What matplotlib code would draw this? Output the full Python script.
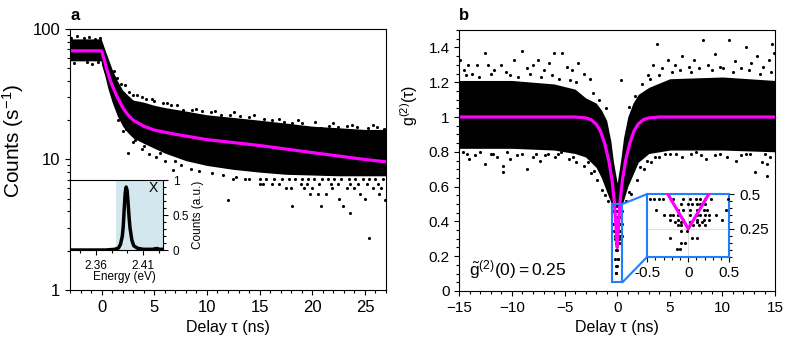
import matplotlib
matplotlib.use("Agg")
import matplotlib.pyplot as plt
from matplotlib.ticker import MultipleLocator, FuncFormatter, FixedLocator, NullFormatter
from matplotlib.patches import Rectangle, ConnectionPatch

plt.rcParams['font.family'] = ['Liberation Sans', 'DejaVu Sans']
plt.rcParams['mathtext.fontset'] = 'custom'
plt.rcParams['mathtext.rm'] = 'Liberation Sans'
plt.rcParams['mathtext.it'] = 'Liberation Sans:italic'

MAG = '#ff00ff'
BLUE = '#1f80ff'

# ---- panel a: lifetime ----
core_a_tau = [-3, -0.05, 0.0, 0.3, 0.6, 1.0, 1.5, 2.0, 2.5, 3.0, 4.0, 5.0, 6.0, 8.0, 10, 12.5, 15, 17.5, 20, 22.5, 25, 27]
core_a_hi = [84, 84, 82, 70, 60, 49, 40, 34, 31, 28.5, 27.5, 26, 25, 23.5, 22, 21, 20, 19, 18, 17.5, 17, 17]
core_a_lo = [57, 57, 53, 44, 35, 27.5, 21.5, 18, 16, 14.6, 13.3, 12.2, 11.2, 9.8, 9.0, 8.4, 8.0, 7.7, 7.6, 7.5, 7.5, 7.5]

fit_a_tau = [-3, 0.0, 0.25, 0.5, 0.75, 1.0, 1.5, 2.0, 2.5, 3.0, 4.0, 5.0, 7.0, 10, 15, 20, 25, 27]
fit_a_val = [68, 68, 58, 49, 42, 37, 30, 25, 22, 20, 18, 16.8, 15.6, 14.2, 12.8, 11.3, 10.0, 9.6]

halo_a_tau = [-2.9, -2.3, -1.7, -1.2, -0.6, -0.2, -2.6, -1.4, -0.9, -0.3,
              1.2, 1.8, 2.6, 3.4, 4.2, 5.0, 5.8, 6.6, 7.7, 8.6, 9.5, 10.4, 11.3, 12.2, 13.1,
              14.0, 15.4, 16.2, 17.3, 18.1, 19.0, 20.8, 21.6, 22.4, 23.3, 24.2, 25.3, 26.1, 26.8,
              2.0, 2.5, 3.0, 3.8, 4.5, 5.2, 6.0, 6.8, 7.5, 8.5, 9.2, 10.5, 11.5, 12.0, 12.8, 13.6,
              15.3, 16.8, 17.5, 18.1, 19.2, 19.8, 20.8, 21.3, 22.5, 22.9, 23.6, 25.0, 25.4, 26.3, 26.9,
              12.5, 14.0, 15.0, 15.6, 16.4, 17.1, 17.8, 18.4, 19.0, 19.6, 20.2, 20.9, 21.5, 22.1,
              22.7, 23.5, 24.1, 24.8, 25.4, 26.0, 26.7,
              15.0, 16.2, 18.9, 19.5, 20.6, 21.8, 22.4, 23.6, 24.3, 25.2, 26.2,
              18.0, 20.0, 21.9, 23.3, 24.0, 25.8, 26.5, 20.5, 24.5,
              1.5, 2.2, 3.0, 3.8, 4.8, 6.2, 7.2, 9.0, 10.8, 12.6, 14.5, 16.8, 18.6, 20.3, 22.0, 23.8, 25.8,
              1.6, 2.3, 3.2, 4.0, 5.5, 7.0]
halo_a_val = [86, 88, 85, 87, 84, 86, 55, 56, 54, 56,
              48, 38, 33, 31, 29, 28, 27, 26, 24, 24, 23.5, 23, 22, 22, 21.5,
              21, 20.4, 20, 19.4, 19, 19, 17.5, 18, 17.8, 18, 17.6, 17.5, 17.8, 17,
              16.5, 11.2, 13.5, 12.0, 11.0, 10.5, 9.8, 8.3, 9.0, 8.5, 8.2, 7.9, 7.6, 4.9, 7.4, 7.1,
              6.5, 6.5, 6.0, 4.4, 6.0, 5.4, 4.4, 5.4, 5.0, 4.4, 3.9, 5.0, 2.5, 5.4, 4.9,
              7.1, 7.1, 7.1, 7.1, 7.1, 7.1, 7.1, 7.1, 7.1, 7.1, 7.1, 7.1, 7.1, 7.1,
              7.1, 7.1, 7.1, 7.1, 7.1, 7.1, 7.1,
              6.5, 6.5, 6.5, 6.5, 6.5, 6.5, 6.5, 6.5, 6.5, 6.5, 6.5,
              6.0, 6.0, 6.0, 6.0, 6.0, 6.0, 6.0, 5.4, 5.4,
              42, 37, 31, 30, 29, 27, 26, 24.5, 23.5, 23, 22, 20.5, 20, 19.5, 19, 18.5, 18.5,
              20, 17, 14, 12.8, 11.2, 9.7]

# inset a: PL spectrum
spec_e = [2.333, 2.37, 2.380, 2.384, 2.386, 2.388, 2.389, 2.390, 2.391, 2.392, 2.393, 2.394,
          2.395, 2.396, 2.398, 2.400, 2.404, 2.41, 2.42, 2.423, 2.425, 2.427, 2.4307]
spec_i = [0.0, 0.0, 0.01, 0.03, 0.08, 0.2, 0.35, 0.6, 0.82, 0.9, 0.85, 0.68,
          0.48, 0.32, 0.14, 0.06, 0.025, 0.01, 0.01, 0.02, 0.02, 0.01, 0.01]
spec_ticks = [2.36, 2.41]
spec_minor = [2.3433, 2.3767, 2.3933, 2.4267]
filter_lo = 2.381

# ---- panel b: g2 ----
core_b_tau = [-15, -10, -6, -4, -3, -2, -1.5, -1, -0.6, -0.35, 0, 0.35, 0.6, 1, 1.5, 2, 3, 5, 10, 15]
core_b_lo = [0.82, 0.82, 0.81, 0.79, 0.77, 0.71, 0.65, 0.57, 0.51, 0.48, 0.48, 0.48, 0.52, 0.6, 0.67, 0.74, 0.79, 0.81, 0.81, 0.8]
core_b_hi = [1.21, 1.21, 1.19, 1.16, 1.11, 1.08, 1.04, 0.98, 0.86, 0.74, 0.62, 0.76, 0.88, 1.0, 1.08, 1.13, 1.17, 1.22, 1.23, 1.21]

fit_b_tau = [-15, -4, -3, -2.5, -2, -1.6, -1.2, -0.8, -0.5, -0.25, -0.1, 0,
             0.1, 0.25, 0.5, 0.8, 1.2, 1.6, 2, 2.5, 3, 4, 15]
fit_b_val = [1, 1, 0.995, 0.985, 0.96, 0.92, 0.85, 0.75, 0.64, 0.5, 0.35, 0.25,
             0.35, 0.5, 0.64, 0.75, 0.85, 0.92, 0.96, 0.985, 0.995, 1, 1]

halo_b_tau = [-14.9, -14.6, -14.2, -13.8, -13.3, -12.6, -12.3, -11.7, -11.0, -10.6, -9.85, -9.07,
              -8.6, -8.0, -7.5, -7.0, -6.5, -5.98, -5.2, -4.8, -4.3, -3.7, -3.2, -2.6, 0.37,
              2.9, 3.4, 3.76, 4.3, 4.8, 5.5, 6.2, 6.8, 7.3, 8.13, 8.6, 9.3, 9.8, 10.6, 11.2,
              11.8, 12.2, 12.7, 13.3, 13.9, 14.4, 14.7, 14.9,
              -14.7, -14.1, -13.5, -12.6, -12.0, -11.4, -10.9, -10.9, -10.2, -9.5, -8.6, -8.0,
              -7.3, -6.6, -5.9, -5.3, -4.6, -3.9, -3.2, -2.5, -1.9, -1.4, -0.9, 0.8, 1.3, 1.9,
              2.5, 3.2, 4.0, 5.0, 6.2, 7.5, 8.4, 9.3, 10.4, 11.3, 12.2, 13.1, 13.8, 14.2, 14.2, 14.5,
              -14.4, -13.1, -12.0, -10.2, -9.4, -8.3, -7.2, -6.2, -5.5, -4.5, -3.9, -2.3, -1.7, -1.1,
              1.1, 1.7, 2.4, 3.1, 4.0, 5.2, 6.0, 7.0, 7.8, 9.0, 10.1, 11.0, 12.5, 13.6, 14.6,
              -14.3, -13.0, -11.8, -10.5, -9.0, -7.7, -6.9, -5.6, -4.2, -2.8, -2.2, -1.2,
              1.1, 2.2, 2.8, 3.6, 4.5, 5.6, 7.0, 8.0, 9.8, 11.8, 12.6, 14.0]
halo_b_val = [1.33, 1.27, 1.30, 1.25, 1.30, 1.37, 1.30, 1.27, 1.30, 1.26, 1.33, 1.38,
              1.28, 1.30, 1.33, 1.27, 1.31, 1.37, 1.37, 1.29, 1.27, 1.31, 1.25, 1.22, 1.215,
              1.24, 1.30, 1.42, 1.28, 1.33, 1.30, 1.35, 1.29, 1.33, 1.44, 1.30, 1.36, 1.29, 1.44, 1.32,
              1.28, 1.40, 1.31, 1.35, 1.29, 1.33, 1.42, 1.37,
              0.80, 0.76, 0.78, 0.73, 0.79, 0.77, 0.684, 0.72, 0.76, 0.78, 0.70, 0.77,
              0.75, 0.79, 0.77, 0.80, 0.76, 0.74, 0.72, 0.68, 0.64, 0.58, 0.52, 0.52, 0.56, 0.64,
              0.70, 0.74, 0.77, 0.79, 0.77, 0.80, 0.76, 0.78, 0.77, 0.75, 0.79, 0.684, 0.74, 0.66, 0.73, 0.77,
              1.24, 1.23, 1.25, 1.24, 1.23, 1.25, 1.23, 1.24, 1.22, 1.21, 1.20, 1.14, 1.10, 1.05,
              1.06, 1.12, 1.19, 1.22, 1.24, 1.26, 1.27, 1.26, 1.28, 1.27, 1.28, 1.26, 1.27, 1.25, 1.26,
              0.79, 0.80, 0.79, 0.80, 0.79, 0.79, 0.78, 0.79, 0.77, 0.74, 0.69, 0.55,
              0.57, 0.71, 0.75, 0.77, 0.79, 0.79, 0.79, 0.78, 0.79, 0.78, 0.79, 0.79]

dip_tau = [-0.466, -0.416, -0.354, -0.304, -0.187, -0.062, 0.021, 0.096, 0.146, 0.209, 0.28, 0.48,
           -0.083, 0.0, 0.042, 0.105, 0.146, 0.209,
           -0.395, -0.125, -0.062, 0.021, 0.105, 0.187, 0.23, 0.459,
           -0.291, -0.229, -0.187, -0.125, 0.021, 0.105, 0.146, 0.209, 0.25, 0.334,
           -0.229, -0.125, -0.062, 0.105, 0.187, 0.25, 0.417,
           -0.166, -0.083, 0.021, 0.105, 0.167,
           -0.125, -0.083, 0.062, 0.125, 0.209,
           -0.083, -0.02, -0.229, 0.042, 0.105, -0.083, -0.041, -0.137, -0.104]
dip_val = [0.461] * 12 + [0.425] * 6 + [0.383] * 8 + [0.347] * 10 + [0.316] * 7 + \
          [0.298] * 5 + [0.274] * 5 + [0.238] * 2 + [0.184] * 3 + [0.145] * 2 + [0.106] * 2

g2_zero = 0.25

fig = plt.figure(figsize=(7.92, 3.47), dpi=100)


def style_ticks(ax, size=10):
    ax.tick_params(which='both', direction='out', labelsize=size, width=0.8)
    ax.tick_params(which='major', length=3.5)
    ax.tick_params(which='minor', length=2)


# ---------------- panel a ----------------
axa = fig.add_axes([0.0884, 0.1643, 0.399, 0.7521])
axa.fill_between(core_a_tau, core_a_lo, core_a_hi, color='black', lw=0)
axa.scatter(halo_a_tau, halo_a_val, s=5, color='black', lw=0)
axa.plot(fit_a_tau, fit_a_val, color=MAG, lw=2.3)
axa.set_yscale('log')
axa.set_xlim(-3, 27)
axa.set_ylim(1, 100)
axa.xaxis.set_major_locator(MultipleLocator(5))
axa.xaxis.set_minor_locator(MultipleLocator(1))
axa.yaxis.set_major_formatter(FuncFormatter(lambda v, p: '%g' % v))
axa.yaxis.set_minor_formatter(NullFormatter())
style_ticks(axa, size=12)
axa.set_xlabel('Delay τ (ns)', fontsize=11.5)
axa.set_ylabel('Counts (s$^{-1}$)', fontsize=15)
axa.yaxis.set_label_coords(-0.14, 0.571)
fig.text(0.0884, 0.942, 'a', fontsize=12, fontweight='bold')

# inset a
axi = fig.add_axes([0.0884, 0.2795, 0.1174, 0.2017])
axi.axvspan(filter_lo, 2.4307, color='#d3e7ef', lw=0)
axi.plot(spec_e, spec_i, color='black', lw=2.5)
axi.set_xlim(2.333, 2.4307)
axi.set_ylim(0, 1)
axi.xaxis.set_major_locator(FixedLocator(spec_ticks))
axi.xaxis.set_minor_locator(FixedLocator(spec_minor))
axi.yaxis.set_major_locator(MultipleLocator(0.5))
axi.yaxis.set_minor_locator(MultipleLocator(0.1))
axi.yaxis.tick_right()
axi.yaxis.set_label_position('right')
axi.xaxis.set_major_formatter(FuncFormatter(lambda v, p: '%.2f' % v))
axi.yaxis.set_major_formatter(FuncFormatter(lambda v, p: '%g' % v))
style_ticks(axi, size=8.5)
axi.set_xlabel('Energy (eV)', fontsize=8.5, labelpad=1)
axi.xaxis.set_label_coords(0.59, -0.3)
axi.set_ylabel('Counts (a.u.)', fontsize=8.5, labelpad=2)
axi.text(0.9, 0.88, 'X', transform=axi.transAxes, fontsize=10, ha='center', va='center')

# ---------------- panel b ----------------
axb = fig.add_axes([0.58, 0.1614, 0.3986, 0.7521])
axb.fill_between(core_b_tau, core_b_lo, core_b_hi, color='black', lw=0)
axb.scatter(halo_b_tau, halo_b_val, s=5, color='black', lw=0)
axb.scatter(dip_tau, dip_val, s=5, color='black', lw=0)
axb.plot(fit_b_tau, fit_b_val, color=MAG, lw=2.3)
axb.set_xlim(-15, 15)
axb.set_ylim(0, 1.5)
axb.xaxis.set_major_locator(MultipleLocator(5))
axb.xaxis.set_minor_locator(MultipleLocator(1))
axb.yaxis.set_major_locator(MultipleLocator(0.2))
axb.yaxis.set_minor_locator(MultipleLocator(0.05))
axb.yaxis.set_major_formatter(FuncFormatter(lambda v, p: '%g' % round(v, 2)))
style_ticks(axb, size=11)
axb.set_xlabel('Delay τ (ns)', fontsize=11.5)
axb.set_ylabel('g$^{(2)}$(τ)', fontsize=11.5)
axb.yaxis.set_label_coords(-0.125, 0.71)
axb.text(0.03, 0.06, r'$\tilde{\mathrm{g}}^{(2)}\mathrm{(0) = %g}$' % g2_zero, transform=axb.transAxes,
         fontsize=12.5, ha='left', va='baseline')
fig.text(0.58, 0.942, 'b', fontsize=12, fontweight='bold')

axb.add_patch(Rectangle((-0.5, 0.05), 1.0, 0.45, fill=False, edgecolor=BLUE, lw=1.5, zorder=5))

# inset b
axbi = fig.add_axes([0.8173, 0.2602, 0.1035, 0.1807])
axbi.grid(True, color='#dddddd', lw=0.8)
axbi.set_axisbelow(True)
axbi.scatter(dip_tau, dip_val, s=5, color='black', lw=0, zorder=3)
axbi.plot(fit_b_tau, fit_b_val, color=MAG, lw=2.3, zorder=4)
axbi.set_xlim(-0.5, 0.5)
axbi.set_ylim(0.05, 0.5)
axbi.xaxis.set_major_locator(MultipleLocator(0.5))
axbi.xaxis.set_minor_locator(MultipleLocator(0.1))
axbi.yaxis.set_major_locator(MultipleLocator(0.25))
axbi.yaxis.set_minor_locator(MultipleLocator(0.05))
axbi.yaxis.tick_right()
axbi.xaxis.set_major_formatter(FuncFormatter(lambda v, p: '%g' % round(v, 2)))
axbi.yaxis.set_major_formatter(FuncFormatter(lambda v, p: '%g' % round(v, 2)))
style_ticks(axbi, size=11)
for sp in axbi.spines.values():
    sp.set_edgecolor(BLUE)
    sp.set_linewidth(1.5)

for xyA, xyB in [((0.5, 0.5), (0, 1)), ((0.5, 0.05), (0, 0))]:
    con = ConnectionPatch(xyA=xyA, coordsA=axb.transData, xyB=xyB, coordsB=axbi.transAxes,
                          color=BLUE, lw=1.5)
    fig.add_artist(con)

fig.savefig('out.png', dpi=100)
